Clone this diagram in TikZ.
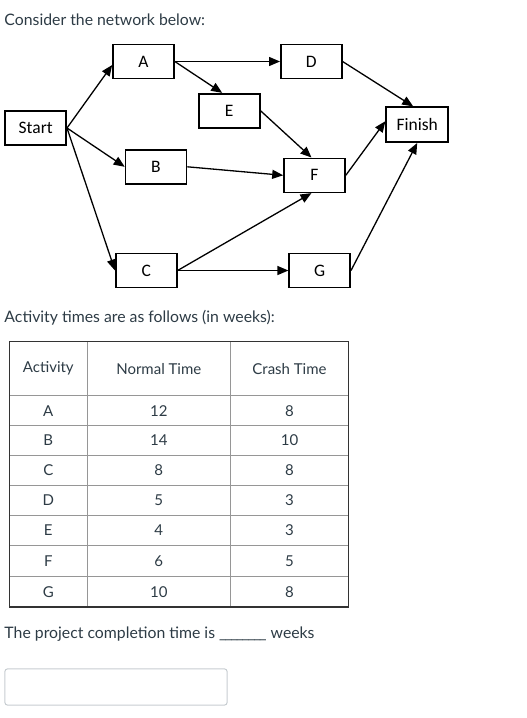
\documentclass[tikz,border=0pt]{standalone}
\usepackage{fontspec}
\setmainfont{Lato}
\newfontfamily\boxfont{Carlito}
\usetikzlibrary{arrows.meta}
\definecolor{txt}{RGB}{45,59,69}
\definecolor{gridc}{RGB}{150,150,150}
\definecolor{outerc}{RGB}{51,51,51}
\definecolor{inputc}{RGB}{199,205,209}
\newcommand\blankus{\_\kern-1.5pt}
\begin{document}
\begin{tikzpicture}[x=1pt,y=-1pt,
  actbox/.style={draw=black,line width=1.6pt,rectangle,minimum width=61pt,minimum height=34pt,inner sep=0pt,font=\boxfont\fontsize{17.5}{20}\selectfont,text=black},
  conn/.style={line width=1.3pt,-{Triangle[length=11pt,width=9pt]}},
  plain/.style={font=\fontsize{15.8}{19}\selectfont,text=txt,inner sep=0pt,anchor=base west},
  cell/.style={font=\fontsize{15}{18}\selectfont,text=txt,inner sep=0pt}]
\useasboundingbox (0,0) rectangle (527,718);
\node[plain] (q1) at (4.3,25.7) {Consider the network below:};
% network
\node[actbox] (A) at (143.5,61.5) {A};
\node[actbox] (D) at (311.3,61.5) {D};
\node[actbox] (E) at (229.2,110.7) {E};
\node[actbox] (Start) at (35.7,128) {Start};
\node[actbox,minimum width=62pt,minimum height=35pt] (Finish) at (417.2,124.7) {Finish};
\node[actbox] (B) at (156,166.8) {B};
\node[actbox] (F) at (314.5,175.3) {F};
\node[actbox] (C) at (146.3,270.5) {C};
\node[actbox] (G) at (319.7,270.5) {G};
\draw[conn] (Start.east) -- ([yshift=-3.5pt]A.west);
\draw[conn] (Start.east) -- (B.west);
\draw[conn] (Start.east) -- (C.west);
\draw[conn] (A.east) -- (D.west);
\draw[conn] (A.east) -- ([xshift=-7pt]E.north);
\draw[conn] (D.east) -- ([xshift=-4pt]Finish.north);
\draw[conn] (E.east) -- ([xshift=-3pt]F.north);
\draw[conn] (B.east) -- (F.west);
\draw[conn] (C.east) -- ([xshift=-3pt]F.south);
\draw[conn] (C.east) -- (G.west);
\draw[conn] (F.east) -- ([yshift=3.5pt]Finish.west);
\draw[conn] (G.east) -- (Finish.south);
\node[plain] (q2) at (4.3,322.7) {Activity times are as follows (in weeks):};
% table
\foreach \y in {395.7,425.7,455.5,485,515.3,545.7,576.7}
  \draw[gridc,line width=1pt] (9.3,\y) -- (348.7,\y);
\draw[gridc,line width=1pt] (87.3,341.7) -- (87.3,607);
\draw[gridc,line width=1pt] (230.3,341.7) -- (230.3,607);
\draw[outerc,line width=1.3pt] (9.3,341.7) rectangle (348.7,607);
\node[cell] (h1) at (48.3,368.7) {Activity};
\node[cell] (h2) at (158.8,368.7) {Normal Time};
\node[cell] (h3) at (289.5,368.7) {Crash Time};
\foreach \n/\a/\b/\c/\y in {1/A/12/8/410.7,2/B/14/10/440.6,3/C/8/8/470.3,4/D/5/3/500.2,5/E/4/3/530.5,6/F/6/5/561.2,7/G/10/8/591.9}{
  \node[cell] (r\n a) at (48.3,\y) {\a};
  \node[cell] (r\n b) at (158.8,\y) {\b};
  \node[cell] (r\n c) at (289.5,\y) {\c};
}
\node[plain] (q3) at (4.3,638.3) {The project completion time is \blankus\blankus\blankus\blankus\blankus\blankus\blankus\_ weeks};
\draw[inputc,line width=1pt,rounded corners=3pt] (4.8,668.8) rectangle (227.2,705.2);
\end{tikzpicture}
\end{document}
